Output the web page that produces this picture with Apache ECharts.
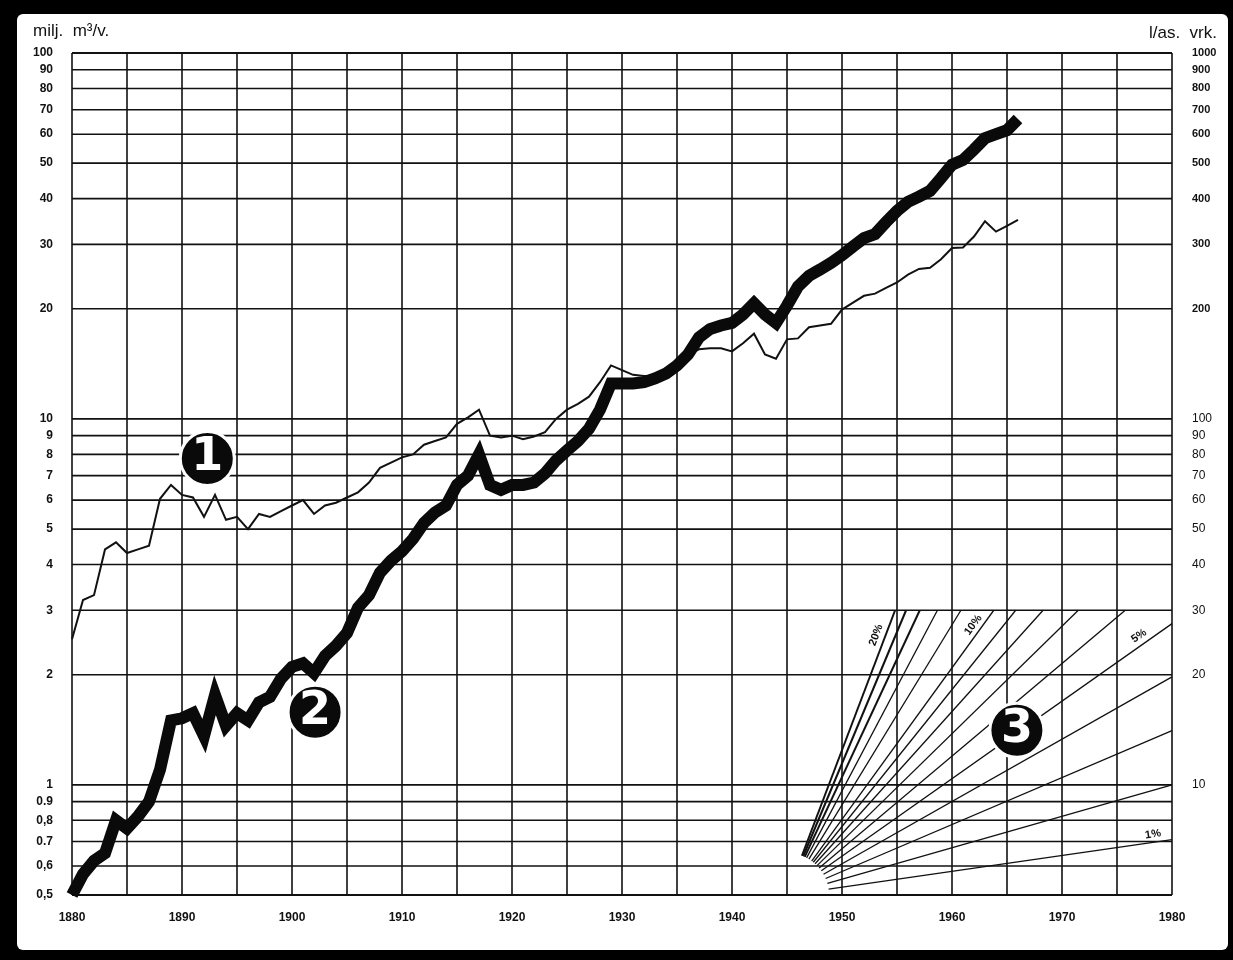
<!DOCTYPE html>
<html>
<head>
<meta charset="utf-8">
<script src="https://cdn.jsdelivr.net/npm/echarts@6/dist/echarts.min.js"></script>
<style>
  html, body { margin: 0; padding: 0; background: #000; }
  #chart { width: 1233px; height: 960px; }
</style>
</head>
<body>
<div id="chart"></div>
<script>
// Years of record
const years = [
  1880,1881,1882,1883,1884,1885,1886,1887,1888,1889,
  1890,1891,1892,1893,1894,1895,1896,1897,1898,1899,
  1900,1901,1902,1903,1904,1905,1906,1907,1908,1909,
  1910,1911,1912,1913,1914,1915,1916,1917,1918,1919,
  1920,1921,1922,1923,1924,1925,1926,1927,1928,1929,
  1930,1931,1932,1933,1934,1935,1936,1937,1938,1939,
  1940,1941,1942,1943,1944,1945,1946,1947,1948,1949,
  1950,1951,1952,1953,1954,1955,1956,1957,1958,1959,
  1960,1961,1962,1963,1964,1965,1966
];

// (1) consumption per inhabitant, l/as. vrk. (right scale)
const perCapita = [
  25, 32, 33, 44, 46, 43, 44, 45, 60.5, 66,
  62, 61, 54, 62, 53, 54, 50, 55, 54, 56,
  58, 60, 55, 58, 59, 61, 63, 67, 73.5, 76,
  78.5, 80, 85, 87, 89, 97, 101, 106, 90, 89,
  90, 88, 89.5, 92, 100, 106, 110, 115, 126, 140,
  136, 132, 131, 131, 135, 142, 150, 155, 156, 156,
  153, 161, 171, 150, 146, 165, 166, 178, 180, 182,
  199, 208, 217, 220, 228, 236, 248, 257, 259, 273,
  293, 294, 315, 347, 325, 337, 350
];

// (2) total consumption, milj. m3/v. (left scale)
const totalUse = [
  0.5, 0.57, 0.62, 0.65, 0.8, 0.76, 0.82, 0.9, 1.1, 1.5,
  1.52, 1.57, 1.36, 1.76, 1.45, 1.57, 1.5, 1.68, 1.74, 1.95,
  2.1, 2.15, 2.02, 2.25, 2.4, 2.6, 3.05, 3.3, 3.8, 4.1,
  4.35, 4.7, 5.2, 5.55, 5.8, 6.6, 7.0, 8.0, 6.6, 6.4,
  6.6, 6.6, 6.7, 7.1, 7.7, 8.2, 8.7, 9.4, 10.6, 12.5,
  12.5, 12.5, 12.6, 12.9, 13.3, 14.0, 15.0, 16.7, 17.6, 18.0,
  18.3, 19.3, 20.7, 19.3, 18.3, 20.4, 23.0, 24.6, 25.6, 26.7,
  28.0, 29.6, 31.2, 32.0, 34.5, 37.0, 39.2, 40.5, 42.0, 45.5,
  49.5, 51.0, 54.5, 58.5, 60.0, 61.5, 66.0
];

// Left scale grid values and their printed labels
const leftTicks = [0.5, 0.6, 0.7, 0.8, 0.9, 1, 2, 3, 4, 5, 6, 7, 8, 9, 10,
                   20, 30, 40, 50, 60, 70, 80, 90, 100];
const leftTickText = ['0,5', '0,6', '0.7', '0,8', '0.9', '1', '2', '3', '4', '5', '6', '7', '8', '9', '10',
                      '20', '30', '40', '50', '60', '70', '80', '90', '100'];

// Right scale labels
const rightTicks = [10, 20, 30, 40, 50, 60, 70, 80, 90, 100,
                    200, 300, 400, 500, 600, 700, 800, 900, 1000];

// Growth-rate fan (3): annual growth rates in percent
const fanRates = [1, 2, 3, 4, 5, 6, 7, 8, 9, 10, 12, 14, 16, 18, 20];
const fanLabelRates = [20, 10, 5, 1];
const fanOriginYear = 1945;
const fanOriginValue = 0.5;
const fanTopValue = 3;
const fanEndYear = 1980;

// Numbered markers
const badgeText = ['1', '2', '3'];
const badgeYear = [1892.3, 1902.1, 1965.9];
const badgeValue = [7.8, 1.58, 1.41];

const FONT = '"Liberation Sans", Arial, sans-serif';
const INK = '#111';

function nearestIndex(arr, v) {
  let best = 0, bd = Infinity;
  for (let i = 0; i < arr.length; i++) {
    const d = Math.abs(Math.log(arr[i]) - Math.log(v));
    if (d < bd) { bd = d; best = i; }
  }
  return best;
}

const chart = echarts.init(document.getElementById('chart'), null, { renderer: 'canvas' });

// Label placement along the fan lines: [distance back from line end, offset to the upper left]
const fanLabelPlace = { 20: [30, 9], 10: [24, 8], 5: [34, 9], 1: [18, 8] };

const option = {
  backgroundColor: '#000',
  animation: false,
  graphic: [
    { type: 'rect', z: -100, shape: { x: 17, y: 14, width: 1211, height: 936, r: 6 }, style: { fill: '#fff' } },
    { type: 'text', z: 10, x: 33, y: 23, style: { text: 'milj.  m³/v.', font: '17px ' + FONT, fill: INK } },
    { type: 'text', z: 10, x: 1217, y: 25, style: { text: 'l/as.  vrk.', font: '17px ' + FONT, fill: INK, align: 'right' } }
  ],
  grid: { left: 72, right: 61, top: 53, bottom: 65 },
  xAxis: {
    type: 'value', min: 1880, max: 1980, interval: 5,
    axisLine: { show: false }, axisTick: { show: false },
    splitLine: { show: true, lineStyle: { color: INK, width: 1.6 } },
    axisLabel: {
      formatter: v => (v % 10 === 0 ? String(v) : ''),
      margin: 17, color: INK, fontFamily: FONT, fontWeight: 'bold', fontSize: 12
    }
  },
  yAxis: [
    {
      type: 'log', logBase: 10, min: 0.5, max: 100, position: 'left',
      axisLine: { show: false }, axisTick: { show: false }, splitLine: { show: false },
      axisLabel: {
        customValues: leftTicks,
        formatter: v => leftTickText[nearestIndex(leftTicks, v)],
        margin: 19, color: INK, fontFamily: FONT, fontWeight: 'bold', fontSize: 12
      }
    },
    {
      type: 'log', logBase: 10, min: 5, max: 1000, position: 'right',
      axisLine: { show: false }, axisTick: { show: false }, splitLine: { show: false },
      axisLabel: {
        customValues: rightTicks,
        formatter: v => {
          const t = rightTicks[nearestIndex(rightTicks, v)];
          return t >= 200 ? '{b|' + t + '}' : '{n|' + t + '}';
        },
        margin: 20,
        rich: {
          b: { fontFamily: FONT, fontWeight: 'bold', fontSize: 11, color: INK },
          n: { fontFamily: FONT, fontWeight: 'normal', fontSize: 12, color: INK }
        }
      }
    }
  ],
  series: [
    {
      // horizontal grid lines of the left scale
      type: 'custom', name: 'grid', z: 1, silent: true,
      xAxisIndex: 0, yAxisIndex: 0,
      data: leftTicks.map(v => [1880, v]),
      encode: { x: 0, y: 1 },
      renderItem: (params, api) => {
        const v = api.value(1);
        const a = api.coord([1880, v]);
        const b = api.coord([1980, v]);
        return {
          type: 'line',
          shape: { x1: a[0], y1: a[1], x2: b[0], y2: b[1] },
          style: { stroke: INK, lineWidth: v === 100 || v === 0.5 ? 2 : 1.6 }
        };
      }
    },
    {
      // growth-rate fan
      type: 'custom', name: 'fan', z: 2, silent: true,
      xAxisIndex: 0, yAxisIndex: 0,
      data: fanRates.map(r => [fanOriginYear, fanOriginValue, r]),
      encode: { x: 0, y: 1 },
      renderItem: (params, api) => {
        const rate = api.value(2);
        const g = 1 + rate / 100;
        let endYear = fanOriginYear + Math.log(fanTopValue / fanOriginValue) / Math.log(g);
        let endValue = fanTopValue;
        if (endYear > fanEndYear) {
          endYear = fanEndYear;
          endValue = fanOriginValue * Math.pow(g, fanEndYear - fanOriginYear);
        }
        const o = api.coord([fanOriginYear, fanOriginValue]);
        const e = api.coord([endYear, endValue]);
        const dx = e[0] - o[0], dy = e[1] - o[1];
        const len = Math.hypot(dx, dy);
        const ux = dx / len, uy = dy / len;
        const s = [o[0] + ux * 42, o[1] + uy * 42];
        const children = [{
          type: 'line',
          shape: { x1: s[0], y1: s[1], x2: e[0], y2: e[1] },
          style: { stroke: INK, lineWidth: rate >= 16 ? 2 : 1.3 }
        }];
        if (fanLabelRates.indexOf(rate) >= 0) {
          const pl = fanLabelPlace[rate];
          const nx = uy, ny = -ux; // normal toward upper left
          children.push({
            type: 'text',
            x: e[0] - ux * pl[0] + nx * pl[1],
            y: e[1] - uy * pl[0] + ny * pl[1],
            rotation: Math.atan2(-dy, dx),
            style: {
              text: rate + '%', align: 'center', verticalAlign: 'middle',
              font: 'bold 11px ' + FONT, fill: INK
            }
          });
        }
        return { type: 'group', children };
      }
    },
    {
      name: 'kulutus / as.', type: 'line', z: 3,
      xAxisIndex: 0, yAxisIndex: 1,
      data: years.map((y, i) => [y, perCapita[i]]),
      showSymbol: false, silent: true,
      lineStyle: { color: INK, width: 2, join: 'miter' }
    },
    {
      name: 'kokonaiskulutus', type: 'line', z: 4,
      xAxisIndex: 0, yAxisIndex: 0,
      data: years.map((y, i) => [y, totalUse[i]]),
      showSymbol: false, silent: true,
      lineStyle: { color: '#0a0a0a', width: 12, join: 'miter', cap: 'butt', miterLimit: 6 }
    },
    {
      name: 'numerot', type: 'scatter', z: 6, silent: true,
      xAxisIndex: 0, yAxisIndex: 0,
      data: badgeText.map((t, i) => [badgeYear[i], badgeValue[i], t]),
      symbol: 'circle', symbolSize: 54,
      itemStyle: { color: '#0a0a0a', borderColor: '#fff', borderWidth: 3, opacity: 1 },
      label: {
        show: true, position: 'inside',
        formatter: p => p.value[2],
        color: '#fff', fontFamily: '"DejaVu Sans", sans-serif', fontWeight: 'bold', fontSize: 46
      }
    }
  ]
};

chart.setOption(option);
</script>
</body>
</html>
